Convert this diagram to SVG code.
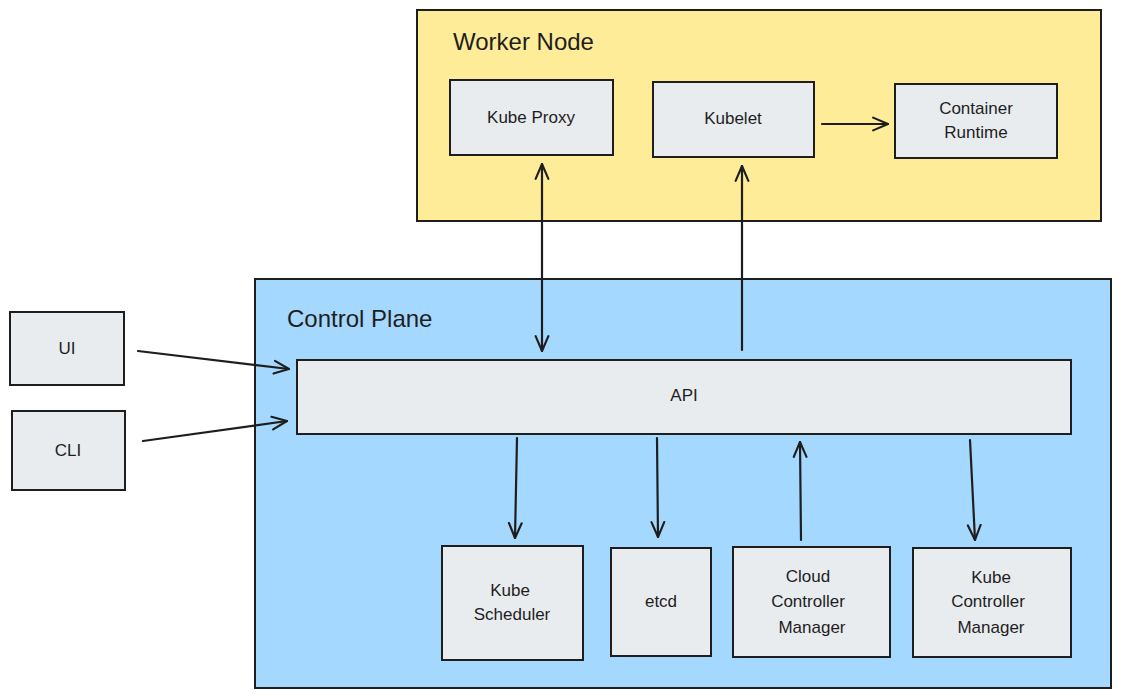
<svg xmlns="http://www.w3.org/2000/svg" width="1121" height="698" viewBox="0 0 1121 698">
<defs>
<marker id="arr" viewBox="0 0 16 16" refX="15" refY="8" markerWidth="17" markerHeight="17" markerUnits="userSpaceOnUse" orient="auto-start-reverse">
<path d="M1,2 L15,8 L1,14" fill="none" stroke="#1e1e1e" stroke-width="2" stroke-linecap="round" stroke-linejoin="round"/>
</marker>
<style>
.box{fill:#e9ecef;stroke:#1e1e1e;stroke-width:2}
.lbl{font-family:"Liberation Sans",Arial,sans-serif;font-size:17px;fill:#1e1e1e;text-anchor:middle}
.ttl{font-family:"Liberation Sans",Arial,sans-serif;font-size:24px;fill:#1e1e1e}
.con{fill:none;stroke:#1e1e1e;stroke-width:2.2;stroke-linecap:round}
</style>
</defs>
<rect width="1121" height="698" fill="#ffffff"/>
<g id="worker-node">
<rect x="417" y="10" width="684" height="211" fill="#ffec99" stroke="#1e1e1e" stroke-width="2"/>
<text class="ttl" x="453" y="50">Worker Node</text>
</g>
<g id="control-plane">
<rect x="255" y="279" width="856" height="409" fill="#a5d8ff" stroke="#1e1e1e" stroke-width="2"/>
<text class="ttl" x="287" y="327">Control Plane</text>
</g>
<g id="kube-proxy">
<rect class="box" x="450" y="80" width="163" height="75"/>
<text class="lbl" x="531" y="123">Kube Proxy</text>
</g>
<g id="kubelet">
<rect class="box" x="653" y="82" width="161" height="75"/>
<text class="lbl" x="733" y="124">Kubelet</text>
</g>
<g id="container-runtime">
<rect class="box" x="895" y="84" width="162" height="74"/>
<text class="lbl" x="976" y="114">Container</text>
<text class="lbl" x="976" y="138">Runtime</text>
</g>
<g id="ui">
<rect class="box" x="10" y="312" width="114" height="73"/>
<text class="lbl" x="67" y="354">UI</text>
</g>
<g id="cli">
<rect class="box" x="12" y="411" width="113" height="79"/>
<text class="lbl" x="68" y="456">CLI</text>
</g>
<g id="api">
<rect class="box" x="297" y="360" width="774" height="74"/>
<text class="lbl" x="684" y="401">API</text>
</g>
<g id="kube-scheduler">
<rect class="box" x="442" y="546" width="141" height="114"/>
<text class="lbl" x="510" y="596">Kube</text>
<text class="lbl" x="512" y="620">Scheduler</text>
</g>
<g id="etcd">
<rect class="box" x="611" y="548" width="100" height="108"/>
<text class="lbl" x="661" y="607">etcd</text>
</g>
<g id="cloud-controller-manager">
<rect class="box" x="733" y="547" width="157" height="110"/>
<text class="lbl" x="808" y="582">Cloud</text>
<text class="lbl" x="808" y="607">Controller</text>
<text class="lbl" x="812" y="633">Manager</text>
</g>
<g id="kube-controller-manager">
<rect class="box" x="913" y="548" width="158" height="109"/>
<text class="lbl" x="991" y="583">Kube</text>
<text class="lbl" x="988" y="607">Controller</text>
<text class="lbl" x="991" y="633">Manager</text>
</g>
<g id="connectors">
<line class="con" x1="822" y1="124" x2="888" y2="124" marker-end="url(#arr)"/>
<line class="con" x1="542" y1="164" x2="542" y2="351" marker-start="url(#arr)" marker-end="url(#arr)"/>
<line class="con" x1="742" y1="350" x2="742" y2="166" marker-end="url(#arr)"/>
<line class="con" x1="138" y1="351" x2="289" y2="369" marker-end="url(#arr)"/>
<line class="con" x1="143" y1="441" x2="287" y2="421" marker-end="url(#arr)"/>
<line class="con" x1="517" y1="438" x2="515" y2="538" marker-end="url(#arr)"/>
<line class="con" x1="657" y1="438" x2="658" y2="537" marker-end="url(#arr)"/>
<line class="con" x1="801" y1="540" x2="800" y2="442" marker-end="url(#arr)"/>
<line class="con" x1="970" y1="440" x2="975" y2="540" marker-end="url(#arr)"/>
</g>
</svg>
